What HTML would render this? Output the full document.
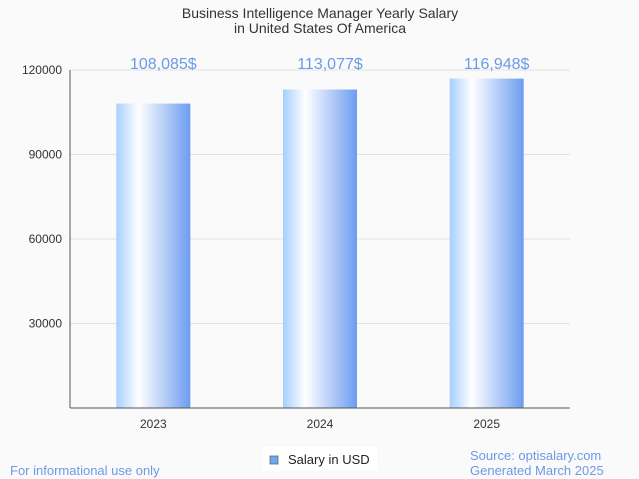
<!DOCTYPE html>
<html><head><meta charset="utf-8"><style>
body{margin:0;background:#fafafa;font-family:"Liberation Sans",sans-serif}
</style></head><body>
<svg width="639" height="479" xmlns="http://www.w3.org/2000/svg" style="display:block">
<defs><linearGradient id="g" x1="0" x2="1" y1="0" y2="0">
<stop offset="0" stop-color="#a6cfff"/><stop offset="0.3" stop-color="#ffffff"/><stop offset="1" stop-color="#6d9cf0"/></linearGradient></defs>
<rect width="639" height="479" fill="#fafafa"/>
<text x="320" y="18" text-anchor="middle" font-size="14" fill="#333">Business Intelligence Manager Yearly Salary</text>
<text x="320" y="33" text-anchor="middle" font-size="14" fill="#333">in United States Of America</text>
<g id="grid"></g><g id="bars"></g>
<line x1="70" y1="70" x2="70" y2="408" stroke="#555"/>
<line x1="70" y1="408" x2="570" y2="408" stroke="#555"/>
<rect x="262" y="447" width="115" height="24" fill="#fff"/>
<rect x="270" y="456" width="8" height="8" fill="#6aaaf0" stroke="#666" stroke-width="0.8"/>
<text x="288" y="464" font-size="13" fill="#222">Salary in USD</text>
<text x="10" y="475" font-size="13" fill="#6a9ae8">For informational use only</text>
<text x="470" y="460" font-size="13" fill="#6a9ae8">Source: optisalary.com</text>
<text x="470" y="475" font-size="13" fill="#6a9ae8">Generated March 2025</text>
</svg>
<script>
const categories=["2023","2024","2025"];
const values=[108085,113077,116948];
const valueLabels=["108,085$","113,077$","116,948$"];
const yTicks=[30000,60000,90000,120000];
const ns="http://www.w3.org/2000/svg";
const x0=70,x1=570,y0=408,yTop=70,yMax=120000;
const y=v=>y0-(v/yMax)*(y0-yTop);
const band=(x1-x0)/categories.length;
const xc=i=>x0+band*(i+0.5);
function mk(t,a,p){const e=document.createElementNS(ns,t);for(const k in a)e.setAttribute(k,a[k]);p.appendChild(e);return e;}
const grid=document.getElementById('grid'),bars=document.getElementById('bars');
yTicks.forEach(v=>{
 const l=mk('line',{x1:x0,x2:x1,y1:y(v),y2:y(v),stroke:'#e2e2e2'},grid);
 
 
 const t=mk('text',{x:x0-8,y:y(v)+4,'text-anchor':'end','font-size':12,fill:'#333'},grid);
 t.textContent=v;
 
 
});
categories.forEach((c,i)=>{
 const w=74;
 const r=mk('rect',{x:xc(i)-w/2,y:y(values[i]),width:w,height:y0-y(values[i]),fill:'url(#g)'},bars);
 
 
 const t=mk('text',{x:xc(i),y:y0+20,'text-anchor':'middle','font-size':12,fill:'#333'},bars);
 t.textContent=c;
 
 
 const v=mk('text',{x:xc(i)+10,y:69,'text-anchor':'middle','font-size':16,fill:'#6a9ae8'},bars);
 v.textContent=valueLabels[i];
 
 
});
</script>
</body></html>
